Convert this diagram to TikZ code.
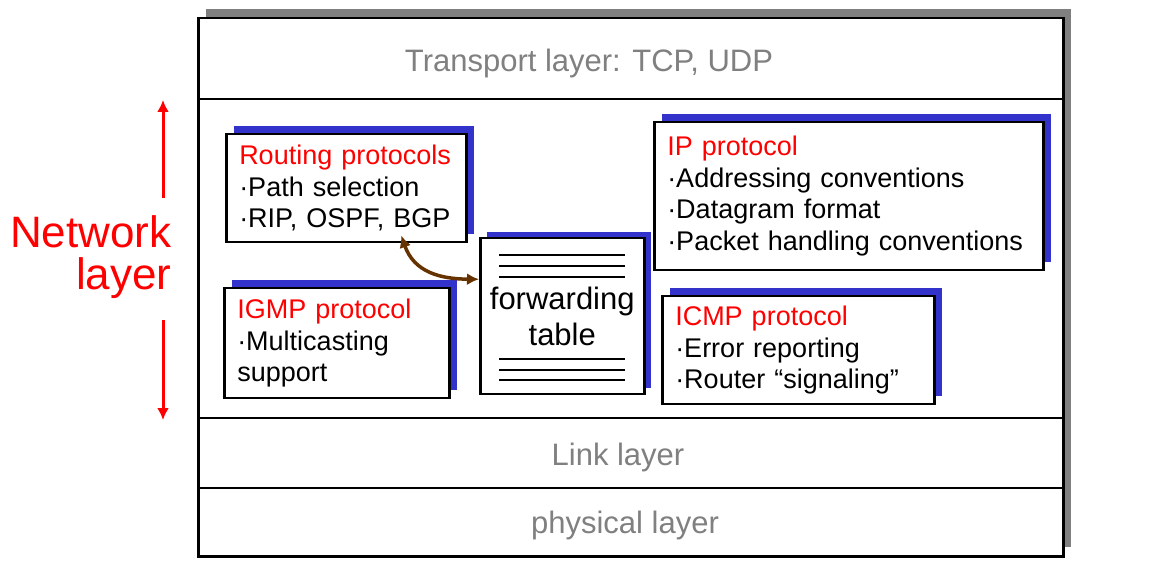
\documentclass[tikz,border=0pt]{standalone}
\usepackage{fontspec}
\setmainfont{Liberation Sans}
\usepackage{tikz}
\usetikzlibrary{arrows.meta,shadows,positioning}
\definecolor{shadowblue}{RGB}{51,51,204}
\definecolor{framegray}{RGB}{128,128,128}
\definecolor{linkbrown}{RGB}{102,51,0}

\begin{document}
\begin{tikzpicture}[>={Latex[length=12pt,width=12pt]},x=1pt,y=-1pt,line width=2.5pt]
	\tikzstyle{proto}=[draw,fill=white,anchor=north west,align=left,inner xsep=13pt,inner ysep=0pt,
		font=\fontsize{27}{31.5}\selectfont,
		drop shadow={shadow xshift=8pt,shadow yshift=8pt,fill=shadowblue,opacity=1}]
	\tikzstyle{layerlbl}=[anchor=base,text=framegray,font=\fontsize{31}{36}\selectfont]
	\tikzstyle{netlbl}=[anchor=base east,text=red,font=\fontsize{44}{48}\selectfont]

	\useasboundingbox (0,0) rectangle (1176,577);

	% protocol stack
	\node[draw,fill=white,anchor=north west,minimum width=865pt,minimum height=538pt,inner sep=0pt,
		drop shadow={shadow xshift=8pt,shadow yshift=9pt,fill=framegray,opacity=1}] (stack) at (197,17) {};
	\foreach \y in {99,418,488}
		\draw (stack.west |- 0,\y) -- (stack.east |- 0,\y);

	\node[layerlbl] (transport) at (589,72) {Transport layer: TCP, UDP};
	\node[layerlbl] (link) at (618,465) {Link layer};
	\node[layerlbl] (physical) at (625,533) {physical layer};

	% network layer parts
	\node[proto,text width=214pt,minimum height=108pt] (routing) at (225,133)
		{{\color{red}Routing protocols}\\·Path selection\\·RIP, OSPF, BGP};
	\node[proto,text width=199pt,minimum height=110pt] (igmp) at (223,287)
		{{\color{red}IGMP protocol}\\·Multicasting\\support};
	\node[proto,text width=363pt,minimum height=148pt] (ip) at (653,121)
		{{\color{red}IP protocol}\\·Addressing conventions\\·Datagram format\\·Packet handling conventions};
	\node[proto,text width=246pt,minimum height=108pt] (icmp) at (661,295)
		{{\color{red}ICMP protocol}\\·Error reporting\\·Router “signaling”};

	\node[draw,fill=white,anchor=north west,align=center,text width=156pt,inner xsep=4pt,inner ysep=0pt,
		minimum height=156pt,font=\fontsize{31}{36}\selectfont,
		drop shadow={shadow xshift=7pt,shadow yshift=6pt,fill=shadowblue,opacity=1}] (fwd) at (479,237)
		{forwarding\\table};
	\foreach \dy in {18,29,40}
		\draw[line width=2pt] ([xshift=20pt,yshift=-\dy pt]fwd.north west) -- ([xshift=-21pt,yshift=-\dy pt]fwd.north east);
	\foreach \dy in {15,25,36}
		\draw[line width=2pt] ([xshift=20pt,yshift=\dy pt]fwd.south west) -- ([xshift=-21pt,yshift=\dy pt]fwd.south east);

	\draw[<->,linkbrown,line width=3.5pt] ([xshift=55pt,yshift=8pt]routing.south)
		.. controls (414,272) and (440,279) .. ([yshift=37pt]fwd.west);

	% side label
	\node[netlbl] (netname) at (176,248) {Network};
	\node[netlbl] (netlayer) at ([yshift=-42pt]netname.base east) {layer};
	\coordinate (uptail) at (163,198);
	\coordinate (uptip) at (163,100);
	\coordinate (downtail) at (163,320);
	\coordinate (downtip) at (163,420);
	\draw[->,red,line width=3pt] (uptail) -- (uptip);
	\draw[->,red,line width=3pt] (downtail) -- (downtip);
\end{tikzpicture}
\end{document}
